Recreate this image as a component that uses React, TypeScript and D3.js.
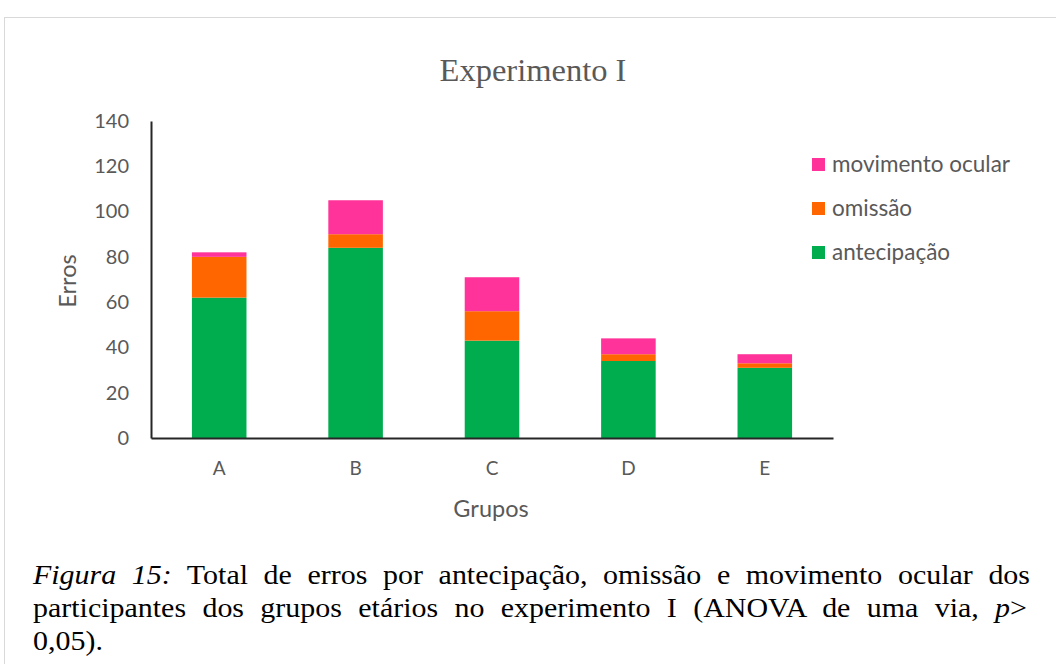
import React, { useEffect, useRef } from "react";
import * as d3 from "d3";

const grupos = ["A", "B", "C", "D", "E"];
const antecipacao = [62, 84, 43, 34, 31];
const omissao = [18, 6, 13, 3, 2];
const movimentoOcular = [2, 15, 15, 7, 4];
const yTicks = [0, 20, 40, 60, 80, 100, 120, 140];
const seriesNames = ["antecipação", "omissão", "movimento ocular"];
const seriesColors = ["#00ad4e", "#ff6600", "#ff3399"];

const W = 1056;
const H = 664;
const sans = "Lato, 'Open Sans', sans-serif";
const serif = "'Liberation Serif', 'Times New Roman', serif";

const App = () => {
  const ref: any = useRef(null);

  useEffect(() => {
    const svg = d3.select(ref.current);
    svg.selectAll("*").remove();

    const margin = { top: 121, left: 151, right: 223, bottom: 226 };
    const innerW = W - margin.left - margin.right;
    const innerH = H - margin.top - margin.bottom;

    // frame of the pasted chart
    svg
      .append("rect")
      .attr("x", 4.5)
      .attr("y", 17.5)
      .attr("width", W + 10)
      .attr("height", H)
      .attr("fill", "#fff")
      .attr("stroke", "#d9d9d9");

    const rows = grupos.map((g, i) => ({
      grupo: g,
      "antecipação": antecipacao[i],
      "omissão": omissao[i],
      "movimento ocular": movimentoOcular[i],
    }));
    const stacked = d3.stack<any>().keys(seriesNames)(rows);

    const x = d3
      .scaleBand()
      .domain(grupos)
      .range([0, innerW])
      .paddingInner(0.6)
      .paddingOuter(0.3);
    const y = d3.scaleLinear().domain([0, 140]).range([innerH, 0]);

    const ctr = svg
      .append("g")
      .attr("transform", `translate(${margin.left}, ${margin.top})`);

    stacked.forEach((layer, si) => {
      ctr
        .append("g")
        .selectAll("rect")
        .data(layer)
        .join("rect")
        .attr("x", (d: any) => x(d.data.grupo) || 0)
        .attr("width", x.bandwidth())
        .attr("y", (d: any) => y(d[1]))
        .attr("height", (d: any) => y(d[0]) - y(d[1]))
        .attr("fill", seriesColors[si]);
    });

    // Y axis
    const yAxis = d3.axisLeft(y).tickValues(yTicks).tickSize(0).tickPadding(22);
    const gy = ctr.append("g").call(yAxis);
    gy.select(".domain").attr("stroke", "#262626").attr("stroke-width", 2);
    gy.selectAll("text")
      .attr("fill", "#595959")
      .style("font-family", sans)
      .style("font-size", "20px");

    // X axis
    const xAxis = d3.axisBottom(x).tickSize(0).tickPadding(24);
    const gx = ctr
      .append("g")
      .attr("transform", `translate(0, ${innerH})`)
      .call(xAxis);
    gx.select(".domain").attr("stroke", "#262626").attr("stroke-width", 2);
    gx.selectAll("text")
      .attr("fill", "#595959")
      .style("font-family", sans)
      .style("font-size", "19px");

    // axis titles
    svg
      .append("text")
      .attr("x", 491)
      .attr("y", 517)
      .attr("text-anchor", "middle")
      .attr("fill", "#595959")
      .style("font-family", sans)
      .style("font-size", "23.5px")
      .text("Grupos");
    svg
      .append("text")
      .attr("transform", "translate(76, 281) rotate(-90)")
      .attr("text-anchor", "middle")
      .attr("fill", "#595959")
      .style("font-family", sans)
      .style("font-size", "23.5px")
      .text("Erros");

    // title
    svg
      .append("text")
      .attr("x", 533)
      .attr("y", 81)
      .attr("text-anchor", "middle")
      .attr("fill", "#595959")
      .style("font-family", serif)
      .style("font-size", "32.5px")
      .text("Experimento I");

    // legend
    const legendOrder = [2, 1, 0];
    const lg = svg.append("g").attr("transform", "translate(812, 158)");
    legendOrder.forEach((si, k) => {
      const row = lg.append("g").attr("transform", `translate(0, ${k * 44})`);
      row
        .append("rect")
        .attr("width", 13)
        .attr("height", 13)
        .attr("fill", seriesColors[si]);
      row
        .append("text")
        .attr("x", 20)
        .attr("y", 14)
        .attr("fill", "#595959")
        .style("font-family", sans)
        .style("font-size", "22.5px")
        .text(seriesNames[si]);
    });

    // caption below the chart, slightly widened glyphs, justified lines
    const sx = 1.09;
    const cap = svg
      .append("g")
      .attr("transform", `translate(33, 0) scale(${sx}, 1)`)
      .style("font-family", serif)
      .style("font-size", "27.5px")
      .attr("fill", "#000");
    const justify = (t: any, target: number) => {
      const node = t.node();
      const len = node.getComputedTextLength();
      const spaces = (node.textContent.match(/ /g) || []).length;
      const goal = target / sx;
      if (spaces > 0 && len < goal) {
        t.attr("word-spacing", (goal - len) / spaces);
      }
    };
    const l1 = cap.append("text").attr("x", 0).attr("y", 584);
    l1.append("tspan").style("font-style", "italic").text("Figura 15:");
    l1.append("tspan").text(
      " Total de erros por antecipação, omissão e movimento ocular dos"
    );
    justify(l1, 997);
    const l2 = cap.append("text").attr("x", 0).attr("y", 617);
    l2.append("tspan").text(
      "participantes dos grupos etários no experimento I (ANOVA de uma via, "
    );
    l2.append("tspan").style("font-style", "italic").text("p");
    l2.append("tspan").text(">");
    justify(l2, 994);
    cap.append("text").attr("x", 0).attr("y", 650).text("0,05).");
  }, []);

  return (
    <svg
      ref={ref}
      width={W}
      height={H}
      style={{ position: "absolute", left: 0, top: 0, background: "#fff" }}
    />
  );
};

export default App;
